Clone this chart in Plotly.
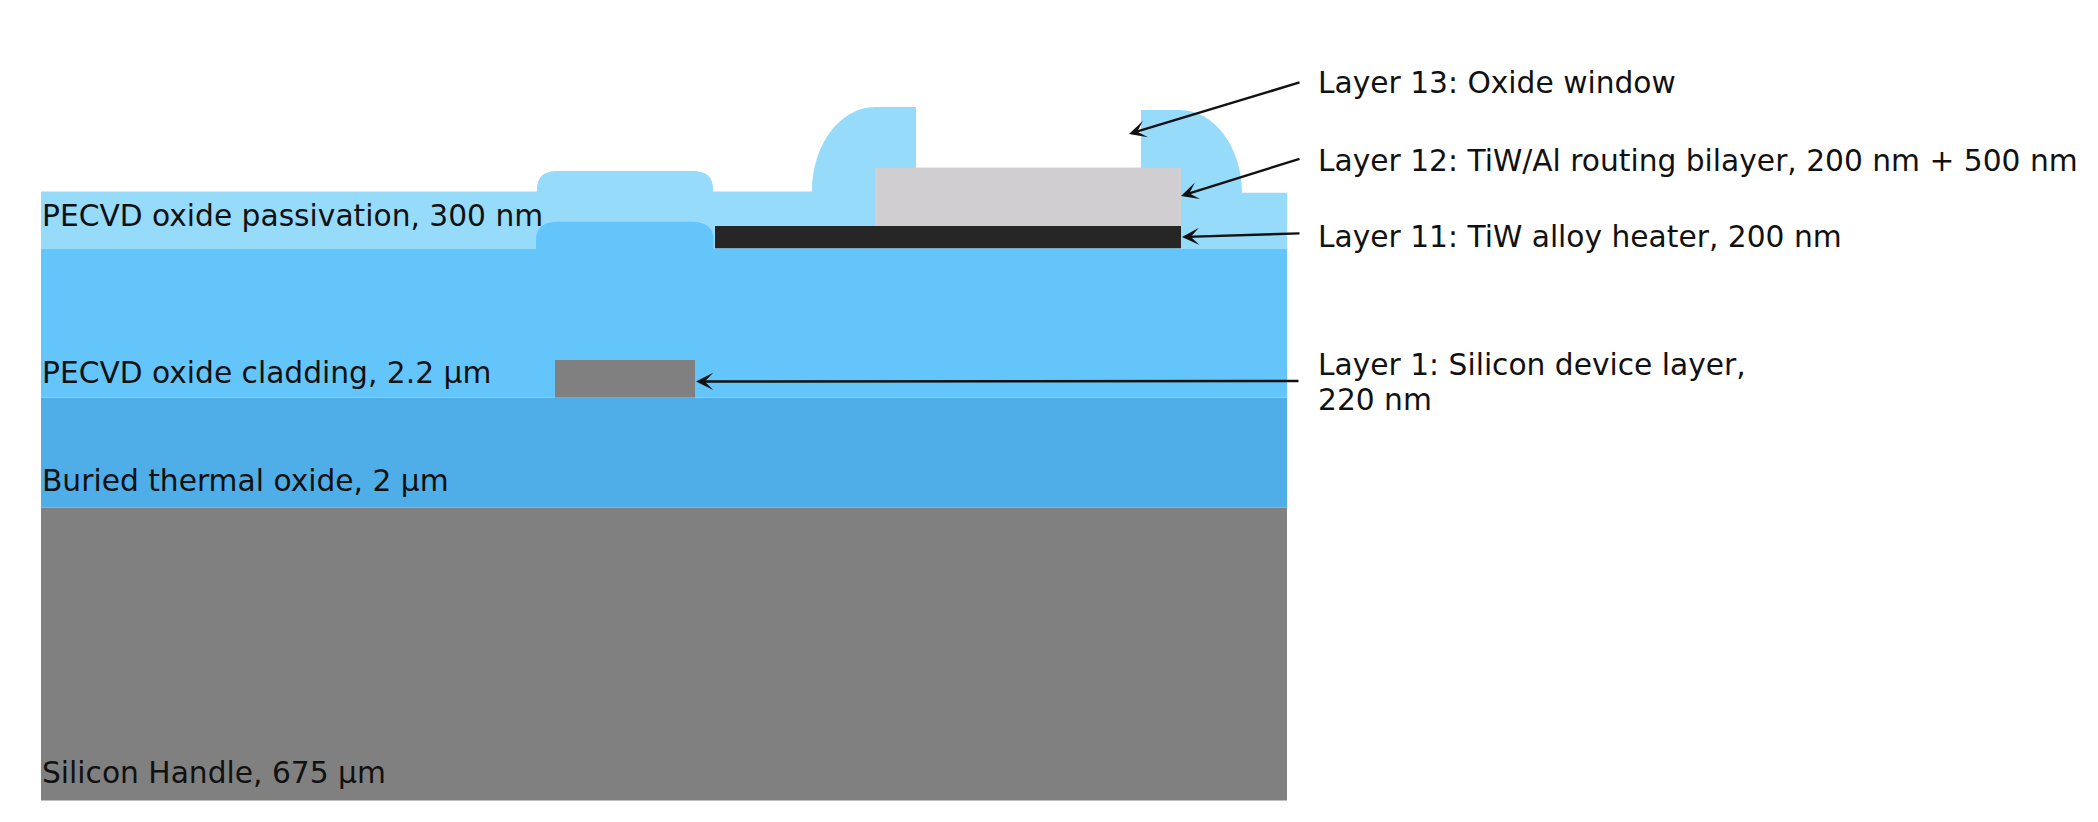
import plotly.graph_objects as go

# ---------------- data (diagram units = canvas pixels, y grows downward) ----------------
CANVAS_W, CANVAS_H = 2098, 822
STACK_X = [41, 1287]

# planar layers, bottom to top
layer_names = ["Silicon Handle, 675 µm", "Buried thermal oxide, 2 µm",
               "PECVD oxide cladding, 2.2 µm", "PECVD oxide passivation, 300 nm"]
layer_top = [507.5, 397.5, 249.0, 191.5]
layer_bottom = [800.5, 507.5, 397.5, 249.0]
layer_colors = ["#808080", "#4FADE8", "#64C5FA", "#97DBFA"]
layer_label_y = [772.4, 480.0, 372.8, 215.3]

# topography of the oxides
bump_x = [537, 713]            # cladding / passivation bump over the waveguide
cladding_bump_top = 221.7
passivation_bump_top = 171.0
left_wall_x = [812, 875, 916]  # foot, crest, inner edge
left_wall_top = 107.0
right_wall_x = [1141, 1180, 1242]  # inner edge, crest, foot
right_wall_top = 110.0
passivation_right_top = 192.7

# patterned layers: x extent, y extent, colour
features = {
    "Layer 1: Silicon device layer": ([555, 695], [360.0, 397.5], "#808080"),
    "Layer 11: TiW alloy heater": ([715, 1181], [226.0, 248.3], "#262626"),
    "Layer 12: TiW/Al routing bilayer": ([875, 1181], [167.7, 226.0], "#D0CED0"),
}

# callouts
callout_text = ["Layer 13: Oxide window",
                "Layer 12: TiW/Al routing bilayer, 200 nm + 500 nm",
                "Layer 11: TiW alloy heater, 200 nm",
                "Layer 1: Silicon device layer,", "220 nm"]
callout_y = [82.0, 160.5, 236.0, 364.7, 399.4]
callout_x = 1315.5
arrow_tail = [(1301, 82.0), (1301, 158.3), (1301, 233.3), (1300, 381.0)]
arrow_tip = [(1129, 134.0), (1181, 196.0), (1182, 237.0), (696, 381.5)]

FONT = "DejaVu Sans"
FS = 29.7
K = 0.552  # cubic ellipse constant


def rect_path(x0, x1, y0, y1):
    return f"M{x0},{y0} L{x1},{y0} L{x1},{y1} L{x0},{y1} Z"


def bump_segment(x0, x1, base, top, rx=21, ry=18):
    return (f"L{x0},{base} L{x0},{top + ry} Q{x0},{top} {x0 + rx},{top} "
            f"L{x1 - rx},{top} Q{x1},{top} {x1},{top + ry} L{x1},{base} ")


shapes = []
# handle and buried oxide
for i in range(2):
    shapes.append(dict(type="path", xref="x", yref="y",
                       path=rect_path(STACK_X[0], STACK_X[1], layer_top[i], layer_bottom[i]),
                       fillcolor=layer_colors[i], line=dict(width=0)))

# passivation (with bump and oxide-window walls)
pb, pt = layer_bottom[3], layer_top[3]
lx0, lx1, lx2 = left_wall_x
rx0, rx1, rx2 = right_wall_x
al_top = features["Layer 12: TiW/Al routing bilayer"][1][0]
ph = pt - left_wall_top
rh = passivation_right_top - right_wall_top
pas = (f"M{STACK_X[0]},{pb} L{STACK_X[0]},{pt} "
       + bump_segment(bump_x[0], bump_x[1], pt, passivation_bump_top, 20, 18)
       + f"L{lx0},{pt} C{lx0},{pt - ph * K} {lx1 - (lx1 - lx0) * K},{left_wall_top} {lx1},{left_wall_top} "
       + f"L{lx2},{left_wall_top} L{lx2},{al_top} L{rx0},{al_top} L{rx0},{right_wall_top} "
       + f"L{rx1},{right_wall_top} C{rx1 + (rx2 - rx1) * K},{right_wall_top} {rx2},{passivation_right_top - rh * K} {rx2},{passivation_right_top} "
       + f"L{STACK_X[1]},{passivation_right_top} L{STACK_X[1]},{pb} Z")
shapes.append(dict(type="path", xref="x", yref="y", path=pas,
                   fillcolor=layer_colors[3], line=dict(width=0)))

# cladding with bump
cb, ct = layer_bottom[2], layer_top[2]
clad = (f"M{STACK_X[0]},{cb} L{STACK_X[0]},{ct} "
        + bump_segment(bump_x[0] - 1, bump_x[1] + 0.5, ct, cladding_bump_top, 22, 18)
        + f"L{STACK_X[1]},{ct} L{STACK_X[1]},{cb} Z")
shapes.append(dict(type="path", xref="x", yref="y", path=clad,
                   fillcolor=layer_colors[2], line=dict(width=0)))

# patterned features
for name, (xs, ys, col) in features.items():
    shapes.append(dict(type="path", xref="x", yref="y",
                       path=rect_path(xs[0], xs[1], ys[0], ys[1]),
                       fillcolor=col, line=dict(width=0)))

annotations = []
for name, y in zip(layer_names, layer_label_y):
    annotations.append(dict(x=39.5, y=y, xref="x", yref="y", text=name, showarrow=False,
                            xanchor="left", yanchor="middle",
                            font=dict(family=FONT, size=FS, color="#111111")))
for t, y in zip(callout_text, callout_y):
    annotations.append(dict(x=callout_x, y=y, xref="x", yref="y", text=t, showarrow=False,
                            xanchor="left", yanchor="middle",
                            font=dict(family=FONT, size=FS, color="#111111")))
for (tx, ty), (hx, hy) in zip(arrow_tail, arrow_tip):
    annotations.append(dict(x=hx, y=hy, xref="x", yref="y", ax=tx, ay=ty,
                            axref="x", ayref="y", text="", showarrow=True,
                            arrowhead=3, arrowsize=1.2, arrowwidth=2.4,
                            arrowcolor="#111111", standoff=0, startstandoff=0))

fig = go.Figure()
fig.add_trace(go.Scatter(x=[], y=[], showlegend=False))
fig.update_layout(
    width=CANVAS_W, height=CANVAS_H, autosize=False,
    margin=dict(l=0, r=0, t=0, b=0, pad=0),
    paper_bgcolor="white", plot_bgcolor="white",
    xaxis=dict(range=[0, CANVAS_W], visible=False, fixedrange=True),
    yaxis=dict(range=[CANVAS_H, 0], visible=False, fixedrange=True),
    shapes=shapes, annotations=annotations, showlegend=False,
)
fig.write_html("out.html", config={"displayModeBar": False},
               post_script="document.body.style.margin='0';")
